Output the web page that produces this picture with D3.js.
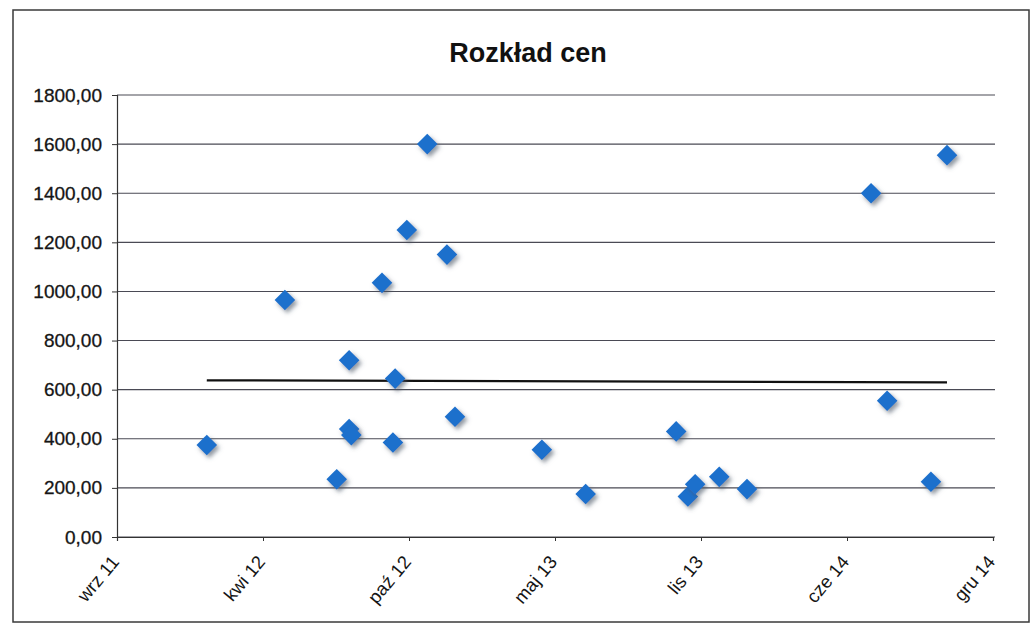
<!DOCTYPE html>
<html>
<head>
<meta charset="utf-8">
<script src="https://cdn.jsdelivr.net/npm/d3@7"></script>
<style>
  html, body { margin: 0; padding: 0; background: #fff; }
  svg { display: block; font-family: "Liberation Sans", Arial, sans-serif; }
</style>
</head>
<body>
<svg id="chart" width="1032" height="625"></svg>
<script>
// ---- data ----
const title = "Rozkład cen";
const pointDates = [
  "2012-01-15", "2012-05-01", "2012-07-11", "2012-07-28", "2012-07-28", "2012-07-31",
  "2012-09-11", "2012-09-26", "2012-09-29", "2012-10-15", "2012-11-12", "2012-12-09",
  "2012-12-20", "2013-04-18", "2013-06-17", "2013-10-19", "2013-11-04", "2013-11-14",
  "2013-12-17", "2014-01-24", "2014-07-13", "2014-08-04", "2014-10-03", "2014-10-25"
];
const pointPrices = [
  375, 965, 235, 720, 440, 415,
  1035, 385, 645, 1250, 1600, 1150,
  490, 355, 175, 430, 165, 215,
  245, 195, 1400, 555, 225, 1555
];
const xDomain = ["2011-09-14", "2014-12-27"];
const xTickDates = ["2011-09-14", "2012-04-01", "2012-10-18", "2013-05-06", "2013-11-22", "2014-06-10", "2014-12-27"];
const monthNames = ["sty", "lut", "mar", "kwi", "maj", "cze", "lip", "sie", "wrz", "paź", "lis", "gru"];
const yTicks = [0, 200, 400, 600, 800, 1000, 1200, 1400, 1600, 1800];

(function () {
// ---- layout ----
const svg = d3.select("#chart");
const pLeft = 117, pRight = 993, pTop = 95, pBottom = 537;
const parse = d3.utcParse("%Y-%m-%d");

const x = d3.scaleUtc().domain(xDomain.map(parse)).range([pLeft, pRight]);
const y = d3.scaleLinear().domain([0, 1800]).range([pBottom, pTop]);

const fmtY = d => d.toFixed(2).replace(".", ",");
const fmtX = d => monthNames[d.getUTCMonth()] + " " + String(d.getUTCFullYear()).slice(2);

// shadow filter
const defs = svg.append("defs");
const f = defs.append("filter").attr("id", "shadow").attr("x", "-50%").attr("y", "-50%").attr("width", "200%").attr("height", "200%");
f.append("feDropShadow").attr("dx", 2.5).attr("dy", 3).attr("stdDeviation", 2)
  .attr("flood-color", "#4a5566").attr("flood-opacity", 0.6);

// outer frame
svg.append("rect").attr("x", 13).attr("y", 10).attr("width", 1016).attr("height", 612)
  .attr("fill", "#fff").attr("stroke", "#3a3a3a").attr("stroke-width", 1.5);

// title
svg.append("text").attr("x", 528).attr("y", 62).attr("text-anchor", "middle")
  .attr("font-size", 27).attr("font-weight", "bold").attr("fill", "#111").text(title);

// gridlines
svg.append("g").selectAll("line").data(yTicks).join("line")
  .attr("x1", pLeft).attr("x2", pRight + 2)
  .attr("y1", d => y(d)).attr("y2", d => y(d))
  .attr("stroke", "#4a4a55").attr("stroke-width", 1.1);

// y axis
const yAxis = svg.append("g").attr("transform", `translate(${pLeft},0)`)
  .call(d3.axisLeft(y).tickValues(yTicks).tickFormat(fmtY).tickSize(5).tickPadding(10));
yAxis.select(".domain").attr("stroke", "#333").attr("stroke-width", 1.2);
yAxis.selectAll(".tick line").attr("stroke", "#333");
yAxis.selectAll("text").attr("font-size", 19).attr("fill", "#151515")
  .attr("stroke", "#151515").attr("stroke-width", 0.3)
  .attr("font-family", "Liberation Sans, Arial, sans-serif");

// x axis
const xAxis = svg.append("g").attr("transform", `translate(0,${pBottom})`)
  .call(d3.axisBottom(x).tickValues(xTickDates.map(parse)).tickFormat(fmtX).tickSize(4).tickPadding(6));
xAxis.select(".domain").attr("stroke", "#333").attr("stroke-width", 1.2);
xAxis.selectAll(".tick line").attr("stroke", "#333");
xAxis.selectAll("text").attr("font-size", 18.5).attr("fill", "#151515")
  .attr("font-family", "Liberation Sans, Arial, sans-serif")
  .attr("text-anchor", "end")
  .attr("dy", null)
  .attr("transform", "translate(-5,19) rotate(-50)");

// points
const pts = pointDates.map((d, i) => ({ date: parse(d), price: pointPrices[i] }));

// linear trendline (least squares)
const xs = pts.map(p => +p.date), ys = pts.map(p => p.price);
const mx = d3.mean(xs), my = d3.mean(ys);
const slope = d3.sum(xs.map((v, i) => (v - mx) * (ys[i] - my))) / d3.sum(xs.map(v => (v - mx) * (v - mx)));
const x0 = d3.min(xs), x1 = d3.max(xs);
const trend = [[x0, my + slope * (x0 - mx)], [x1, my + slope * (x1 - mx)]];
svg.append("path")
  .attr("d", d3.line().x(d => x(new Date(d[0]))).y(d => y(d[1]))(trend))
  .attr("stroke", "#111").attr("stroke-width", 2.2).attr("fill", "none");

const sym = d3.symbol().type(d3.symbolDiamond2).size(270);
svg.append("g").selectAll("path").data(pts).join("path")
  .attr("d", sym)
  .attr("transform", d => `translate(${x(d.date)},${y(d.price)})`)
  .attr("fill", "#1d6fcc")
  .attr("filter", "url(#shadow)");
})();
</script>
</body>
</html>
